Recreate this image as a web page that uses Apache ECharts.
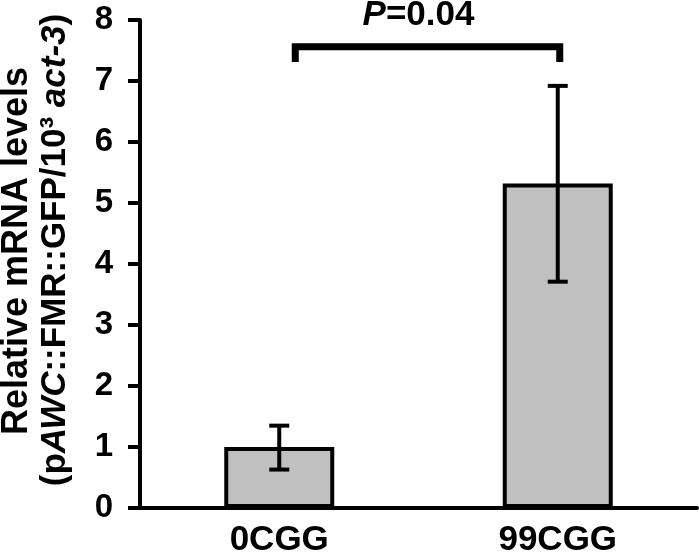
<!DOCTYPE html>
<html>
<head>
<meta charset="utf-8">
<script src="https://cdn.jsdelivr.net/npm/echarts@6/dist/echarts.min.js"></script>
<style>
  html, body { margin: 0; padding: 0; background: #fff; }
  #chart { width: 699px; height: 558px; }
</style>
</head>
<body>
<div id="chart"></div>
<script>
// data
var categories = ['0CGG', '99CGG'];
var means = [1.0, 5.32];
var errLow = [0.63, 3.71];
var errHigh = [1.35, 6.92];
var yTicks = [0, 1, 2, 3, 4, 5, 6, 7, 8];
// significance bracket: from category 0 to 1, top value / tick bottom value
var bracket = [[0, 1, 7.56, 7.31]];
var pLabel = '{i|P}=0.04';

var FONT = '"Liberation Sans", Arial, Helvetica, sans-serif';

var errData = categories.map(function (c, i) {
    return [i, errLow[i], errHigh[i]];
});

var chart = echarts.init(document.getElementById('chart'));

chart.setOption({
    animation: false,
    grid: {
        left: 140,
        right: 2,
        top: 20,
        bottom: 47
    },
    xAxis: {
        type: 'category',
        data: categories,
        axisTick: { show: false },
        axisLine: {
            lineStyle: { color: '#000', width: 4 }
        },
        axisLabel: {
            color: '#000',
            fontFamily: FONT,
            fontWeight: 'bold',
            fontSize: 35,
            margin: 15
        }
    },
    yAxis: {
        type: 'value',
        min: yTicks[0],
        max: yTicks[yTicks.length - 1],
        interval: 1,
        splitLine: { show: false },
        axisLine: {
            show: true,
            lineStyle: { color: '#000', width: 4 }
        },
        axisTick: {
            show: true,
            length: 12,
            lineStyle: { color: '#000', width: 4 }
        },
        axisLabel: {
            color: '#000',
            fontFamily: FONT,
            fontWeight: 'bold',
            fontSize: 33,
            margin: 27
        }
    },
    graphic: [
        {
            type: 'text',
            x: 17,
            y: 251,
            rotation: Math.PI / 2,
            style: {
                text: 'Relative mRNA levels',
                font: 'bold 36px ' + FONT,
                fill: '#000',
                align: 'center',
                verticalAlign: 'middle'
            }
        },
        {
            type: 'text',
            x: 55,
            y: 250,
            rotation: Math.PI / 2,
            style: {
                text: '(p{i|AWC}::FMR::GFP/10³ {i|act-3})',
                font: 'bold 35px ' + FONT,
                fill: '#000',
                align: 'center',
                verticalAlign: 'middle',
                rich: {
                    i: {
                        fontFamily: FONT,
                        fontWeight: 'bold',
                        fontStyle: 'italic',
                        fontSize: 35,
                        fill: '#000'
                    }
                }
            }
        }
    ],
    series: [
        {
            type: 'bar',
            data: means,
            barWidth: 110,
            itemStyle: {
                color: '#c0c0c0',
                borderColor: '#000',
                borderWidth: 4
            },
            z: 3
        },
        {
            type: 'custom',
            data: errData,
            z: 4,
            renderItem: function (params, api) {
                var x = api.value(0);
                var lo = api.coord([x, api.value(1)]);
                var hi = api.coord([x, api.value(2)]);
                var half = 10;
                var st = { stroke: '#000', lineWidth: 4 };
                return {
                    type: 'group',
                    children: [
                        { type: 'line', shape: { x1: hi[0], y1: hi[1], x2: lo[0], y2: lo[1] }, style: st },
                        { type: 'line', shape: { x1: hi[0] - half, y1: hi[1], x2: hi[0] + half, y2: hi[1] }, style: st },
                        { type: 'line', shape: { x1: lo[0] - half, y1: lo[1], x2: lo[0] + half, y2: lo[1] }, style: st }
                    ]
                };
            }
        },
        {
            type: 'custom',
            data: bracket,
            z: 5,
            clip: false,
            renderItem: function (params, api) {
                var a = api.value(0), b = api.value(1);
                var top = api.value(2), foot = api.value(3);
                var lt = api.coord([a, top]);
                var lf = api.coord([a, foot]);
                var rt = api.coord([b, top]);
                var rf = api.coord([b, foot]);
                var leftShift = 16, rightShift = 2;
                return {
                    type: 'group',
                    children: [
                        {
                            type: 'polyline',
                            shape: {
                                points: [
                                    [lf[0] + leftShift, lf[1]],
                                    [lt[0] + leftShift, lt[1]],
                                    [rt[0] + rightShift, rt[1]],
                                    [rf[0] + rightShift, rf[1]]
                                ]
                            },
                            style: { stroke: '#000', lineWidth: 7, fill: null, lineJoin: 'miter' }
                        },
                        {
                            type: 'text',
                            x: (lt[0] + rt[0]) / 2,
                            y: lt[1] - 31,
                            style: {
                                text: pLabel,
                                font: 'bold 35px ' + FONT,
                                fill: '#000',
                                align: 'center',
                                verticalAlign: 'middle',
                                rich: {
                                    i: {
                                        fontFamily: FONT,
                                        fontWeight: 'bold',
                                        fontStyle: 'italic',
                                        fontSize: 35,
                                        fill: '#000'
                                    }
                                }
                            }
                        }
                    ]
                };
            }
        }
    ]
});
</script>
</body>
</html>
